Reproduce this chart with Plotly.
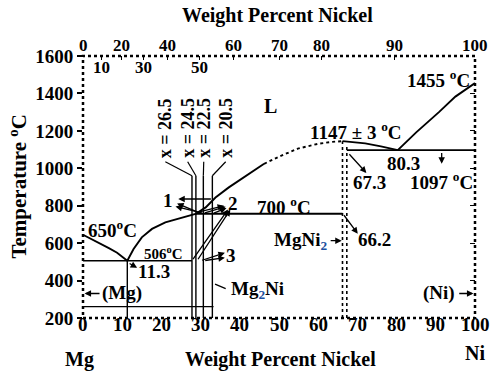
import plotly.graph_objects as go

# ---------------- data ----------------
x_ticks = [0, 10, 20, 30, 40, 50, 60, 70, 80, 90, 100]
y_ticks = [200, 400, 600, 800, 1000, 1200, 1400, 1600]

top_tick_pos = [0, 4.6, 9.9, 15.4, 21.5, 29.7, 38.5, 50.2, 60.8, 79.5, 100]
top_tick_text = ['0', '10', '20', '30', '40', '50', '60', '70', '80', '90', '100']
top_tick_row = [0, 1, 0, 1, 0, 1, 0, 0, 0, 0, 0]   # 1 = lower row

mg_liq_wt = [0, 2.2, 4.4, 6.6, 8.7, 11.3]
mg_liq_T = [645, 622, 597, 573, 549, 506]

mg2ni_liq_wt = [11.3, 12.1, 12.9, 15.0, 17.6, 21.0, 25.3, 28.7, 31.3, 33.8, 37.2, 42.3, 46.2]
mg2ni_liq_T = [506, 540, 569, 631, 676, 711, 738, 756, 791, 844, 898, 970, 1024]

mgni2_dot_wt = [46.2, 50, 54.8, 60, 63.5, 66.2]
mgni2_dot_T = [1024, 1062, 1105, 1131, 1141, 1145]

mgni2_right_wt = [66.2, 72, 76, 80.3]
mgni2_right_T = [1145, 1133, 1117, 1097]

ni_liq_wt = [80.3, 85, 90.8, 95, 100]
ni_liq_T = [1097, 1192, 1300, 1383, 1455]

eut1_wt = [0, 27.8]
eut1_T = [506, 506]
perit_wt = [28.7, 66.2]
perit_T = [757, 757]
eut2_wt = [67.3, 100]
eut2_T = [1097, 1097]
low_wt = [0, 33.3]
low_T = [261, 261]
mg_vert_wt = [11.3, 11.3]
mg_vert_T = [200, 506]

x_line_wt = [27.8, 28.8, 30.7, 33.0]
x_line_T = [200, 960]
x_label_text = ['x = 26.5', 'x = 24.5', 'x = 22.5', 'x = 20.5']
x_label_wt = [21.0, 26.7, 30.8, 36.4]

mgni2_left_wt = [66.2, 66.2]
mgni2_left_T = [200, 1145]
mgni2_rt_wt = [67.3, 67.3]
mgni2_rt_T = [200, 1120]

FONT = "Liberation Serif, Times New Roman, serif"
BLUE = "#2050a0"

fig = go.Figure()


def line(x, y, width=1.9, dash=None):
    fig.add_trace(go.Scatter(x=x, y=y, mode='lines', showlegend=False, hoverinfo='skip',
                             line=dict(color='black', width=width, dash=dash)))


line(mg_liq_wt, mg_liq_T)
line(mg2ni_liq_wt, mg2ni_liq_T)
line(mgni2_dot_wt, mgni2_dot_T, dash='dot')
line(mgni2_right_wt, mgni2_right_T)
line(ni_liq_wt, ni_liq_T)
line(eut1_wt, eut1_T, 1.6)
line(perit_wt, perit_T, 1.9)
line(eut2_wt, eut2_T, 1.9)
line(low_wt, low_T, 1.4)
line(mg_vert_wt, mg_vert_T, 1.4)
for xv in x_line_wt:
    line([xv, xv], x_line_T, 1.4)
for lw, xv in zip(x_label_wt, x_line_wt):
    line([lw, xv], [1035, x_line_T[1]], 1.2)
line(mgni2_left_wt, mgni2_left_T, 1.6, 'dot')
line(mgni2_rt_wt, mgni2_rt_T, 1.6, 'dot')

# dummy trace for top / right axes
fig.add_trace(go.Scatter(x=[None], y=[None], xaxis='x2', yaxis='y2', showlegend=False))

ann = []


def txt(x, y, s, size=19, **kw):
    d = dict(x=x, y=y, text=s, showarrow=False, xref='x', yref='y',
             xanchor='center', yanchor='middle',
             font=dict(family=FONT, size=size, color='black', weight='bold'))
    d.update(kw)
    ann.append(d)


def arrow(xh, yh, xt, yt, head=2, w=1.3):
    ann.append(dict(x=xh, y=yh, ax=xt, ay=yt, axref='x', ayref='y', xref='x', yref='y',
                    text='', showarrow=True, arrowhead=head, arrowsize=1, arrowwidth=w,
                    arrowcolor='black', standoff=0, startstandoff=0))


def ptxt(x, y, s, size=20, **kw):
    d = dict(x=x, y=y, text=s, showarrow=False, xref='paper', yref='paper',
             xanchor='center', yanchor='middle',
             font=dict(family=FONT, size=size, color='black', weight='bold'))
    d.update(kw)
    ann.append(d)


txt(7.4, 677, '650<sup>o</sup>C', 19)
txt(20.5, 547, '506<sup>o</sup>C', 15)
txt(18.0, 448, '11.3', 19)
txt(10.0, 331, '(Mg)', 19)
txt(44.4, 347, "Mg<sub><span style='color:%s'>2</span></sub>Ni" % BLUE, 19)
txt(51.3, 800, '700 <sup>o</sup>C', 19)
txt(55.4, 613, "MgNi<sub><span style='color:%s'>2</span></sub>" % BLUE, 19)
txt(74.4, 619, '66.2', 19)
txt(73.1, 923, '67.3', 19)
txt(81.8, 1024, '80.3', 19)
txt(91.5, 933, '1097 <sup>o</sup>C', 19)
txt(69.7, 1200, '1147 ± 3 <sup>o</sup>C', 19)
txt(90.8, 1477, '1455 <sup>o</sup>C', 19)
txt(47.9, 1333, 'L', 20)
txt(90.8, 331, '(Ni)', 19)
txt(21.8, 827, '1', 19)
txt(38.2, 811, '2', 19)
txt(37.7, 533, '3', 19)
for s, xw in zip(x_label_text, x_label_wt):
    txt(xw, 1215, s, 18, textangle=-90)

arrow(0.4, 331, 4.6, 331)
arrow(99.6, 331, 95.6, 331)
arrow(66.0, 613, 62.8, 613)
arrow(70.1, 650, 66.3, 757)
arrow(72.3, 975, 67.6, 1083)
arrow(91.5, 1024, 91.5, 1090)
arrow(13.8, 468, 11.5, 496)
arrow(36.4, 357, 33.3, 384, head=0)
# arrows to "1"
arrow(24.3, 836, 33.0, 836)
arrow(24.0, 812, 29.5, 764)
arrow(23.6, 796, 30.7, 760)
# arrows to "2"
arrow(36.0, 800, 28.8, 762)
arrow(36.4, 795, 30.7, 760)
arrow(36.6, 788, 33.0, 757)
arrow(37.0, 780, 27.8, 506)
arrow(37.6, 780, 29.1, 506)
# arrows to "3"
arrow(36.2, 548, 30.0, 506)
arrow(36.2, 522, 30.8, 506)

# axis titles and end labels (paper coords)
ptxt(0.497, 1.155, 'Weight Percent Nickel')
ptxt(0.505, -0.16, 'Weight Percent Nickel')
ptxt(-0.008, -0.16, 'Mg')
ptxt(1.0, -0.135, 'Ni')
ptxt(-0.167, 0.5, 'Temperature <sup>o</sup>C', 21, textangle=-90)

# bottom axis labels (drawn just under the frame)
for v in x_ticks:
    ann.append(dict(x=v, y=-0.024, xref='x', yref='paper', text=str(v),
                    xanchor='center', yanchor='middle', showarrow=False,
                    font=dict(family=FONT, size=19, color='black', weight='bold')))

# top axis labels
for pos, t, row in zip(top_tick_pos, top_tick_text, top_tick_row):
    ann.append(dict(x=pos, y=1.04 if row == 0 else 0.958, xref='x', yref='paper', text=t,
                    xanchor='center', yanchor='middle', showarrow=False,
                    font=dict(family=FONT, size=17, color='black', weight='bold')))

fig.update_layout(
    width=491, height=374,
    margin=dict(l=83, r=16, t=56, b=56, autoexpand=False),
    paper_bgcolor='white', plot_bgcolor='white',
    annotations=ann,
    xaxis=dict(range=[0, 100], tickvals=x_ticks, ticks='', showgrid=False, zeroline=False,
               showline=False, automargin=False, showticklabels=False),
    yaxis=dict(range=[200, 1600], tickvals=y_ticks, ticks='outside', ticklen=5, tickwidth=1.5,
               tickcolor='black', showgrid=False, zeroline=False, showline=False, automargin=False,
               tickfont=dict(family=FONT, size=19, color='black', weight='bold')),
    xaxis2=dict(range=[0, 100], overlaying='x', side='top', anchor='y2', tickvals=top_tick_pos,
                ticks='inside', ticklen=4, tickwidth=1.3, tickcolor='black', showticklabels=False,
                showgrid=False, zeroline=False, showline=False, automargin=False),
    yaxis2=dict(range=[200, 1600], overlaying='y', side='right', anchor='x2', tickvals=y_ticks,
                ticks='inside', ticklen=5, tickwidth=1.3, tickcolor='black', showticklabels=False,
                showgrid=False, zeroline=False, showline=False, automargin=False),
    shapes=[dict(type='rect', xref='paper', yref='paper', x0=0, x1=1, y0=0, y1=1,
                 line=dict(color='black', width=2.5, dash='dot'), layer='above')],
)

fig.write_html("out.html", config={'displayModeBar': False},
               post_script="document.body.style.margin='0';")
